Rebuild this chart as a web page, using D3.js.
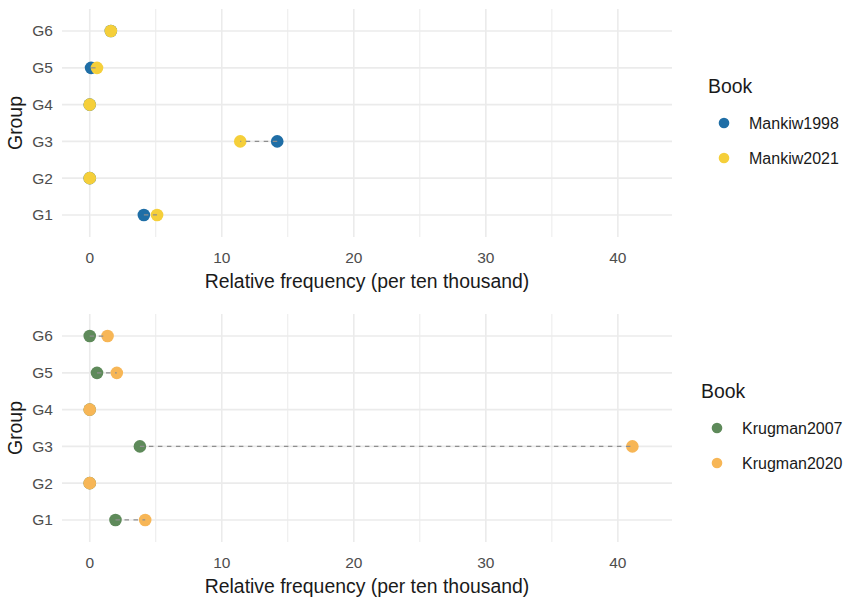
<!DOCTYPE html>
<html>
<head>
<meta charset="utf-8">
<script src="https://cdn.jsdelivr.net/npm/d3@7"></script>
<style>
  body { margin: 0; background: #fff; }
  text { font-family: "Liberation Sans", Arial, sans-serif; }
</style>
</head>
<body>
<div id="chart"></div>
<script>
const groups = ["G1", "G2", "G3", "G4", "G5", "G6"];
const xTicks = [0, 10, 20, 30, 40];

// top panel
const mankiwBooks = ["Mankiw1998", "Mankiw2021"];
const mankiw1998 = [4.1, 0, 14.2, 0, 0.1, 1.6];
const mankiw2021 = [5.1, 0, 11.4, 0, 0.55, 1.6];

// bottom panel
const krugmanBooks = ["Krugman2007", "Krugman2020"];
const krugman2007 = [1.95, 0, 3.8, 0, 0.55, 0];
const krugman2020 = [4.2, 0, 41.1, 0, 2.05, 1.35];

const settings = {
  width: 853,
  height: 599,
  pointRadius: 6.3,
  tickFont: "15.5px",
  titleFont: "19.4px",
  legendFont: "16px",
};

const svg = d3.select("#chart").append("svg")
  .attr("width", settings.width)
  .attr("height", settings.height);

const x = d3.scaleLinear().domain([-2.1, 44.1]).range([62, 672]);

function drawPanel(top, bottom, books, seriesA, seriesB, colors, legendX, legendY) {
  const g = svg.append("g");
  const y = d3.scalePoint().domain(groups).range([bottom, top]).padding(0.6);

  // minor gridlines
  g.selectAll(".minor").data([5, 15, 25, 35]).join("line")
    .attr("x1", d => x(d)).attr("x2", d => x(d))
    .attr("y1", top).attr("y2", bottom)
    .attr("stroke", "#ebebeb").attr("stroke-width", 1);
  // major gridlines
  g.selectAll(".vmajor").data(xTicks).join("line")
    .attr("x1", d => x(d)).attr("x2", d => x(d))
    .attr("y1", top).attr("y2", bottom)
    .attr("stroke", "#ebebeb").attr("stroke-width", 1.6);
  g.selectAll(".hmajor").data(groups).join("line")
    .attr("x1", x.range()[0]).attr("x2", x.range()[1])
    .attr("y1", d => y(d)).attr("y2", d => y(d))
    .attr("stroke", "#ebebeb").attr("stroke-width", 1.6);

  const rows = groups.map((grp, i) => ({ grp, a: seriesA[i], b: seriesB[i] }));

  // points
  g.selectAll(".pa").data(rows).join("circle")
    .attr("cx", d => x(d.a)).attr("cy", d => y(d.grp))
    .attr("r", settings.pointRadius).attr("fill", colors[0]);
  g.selectAll(".pb").data(rows).join("circle")
    .attr("cx", d => x(d.b)).attr("cy", d => y(d.grp))
    .attr("r", settings.pointRadius).attr("fill", colors[1]);

  // dashed segments
  g.selectAll(".seg").data(rows).join("line")
    .attr("x1", d => x(d.a)).attr("x2", d => x(d.b))
    .attr("y1", d => y(d.grp)).attr("y2", d => y(d.grp))
    .attr("stroke", "#8f8f8f").attr("stroke-width", 1.2)
    .attr("stroke-dasharray", "4.5,4.5");

  // y tick labels
  g.selectAll(".ylab").data(groups).join("text")
    .attr("x", 53).attr("y", d => y(d)).attr("dy", "0.35em")
    .attr("text-anchor", "end").attr("fill", "#4d4d4d")
    .style("font-size", settings.tickFont).text(d => d);

  // x tick labels
  g.selectAll(".xlab").data(xTicks).join("text")
    .attr("x", d => x(d)).attr("y", bottom + 26)
    .attr("text-anchor", "middle").attr("fill", "#4d4d4d")
    .style("font-size", settings.tickFont).text(d => d);

  // axis titles
  g.append("text")
    .attr("x", (x.range()[0] + x.range()[1]) / 2).attr("y", bottom + 51)
    .attr("text-anchor", "middle").attr("fill", "#1a1a1a")
    .style("font-size", settings.titleFont)
    .text("Relative frequency (per ten thousand)");
  g.append("text")
    .attr("transform", `translate(22, ${(top + bottom) / 2}) rotate(-90)`)
    .attr("text-anchor", "middle").attr("fill", "#1a1a1a")
    .style("font-size", settings.titleFont).text("Group");

  // legend
  const lg = g.append("g").attr("transform", `translate(${legendX}, ${legendY})`);
  lg.append("text").attr("x", 0).attr("y", 0)
    .attr("fill", "#1a1a1a").style("font-size", settings.titleFont).text("Book");
  lg.selectAll(".key").data(books).join("circle")
    .attr("cx", 16).attr("cy", (d, i) => 30 + i * 35)
    .attr("r", 5.3).attr("fill", (d, i) => colors[i]);
  lg.selectAll(".klab").data(books).join("text")
    .attr("x", 41).attr("y", (d, i) => 30 + i * 35).attr("dy", "0.35em")
    .attr("fill", "#1a1a1a").style("font-size", settings.legendFont).text(d => d);
}

drawPanel(9, 237, mankiwBooks, mankiw1998, mankiw2021, ["#1f6ea6", "#f5cf3a"], 708, 93);
drawPanel(314, 542, krugmanBooks, krugman2007, krugman2020, ["#5e8a5a", "#f7b656"], 701, 398);
</script>
</body>
</html>
